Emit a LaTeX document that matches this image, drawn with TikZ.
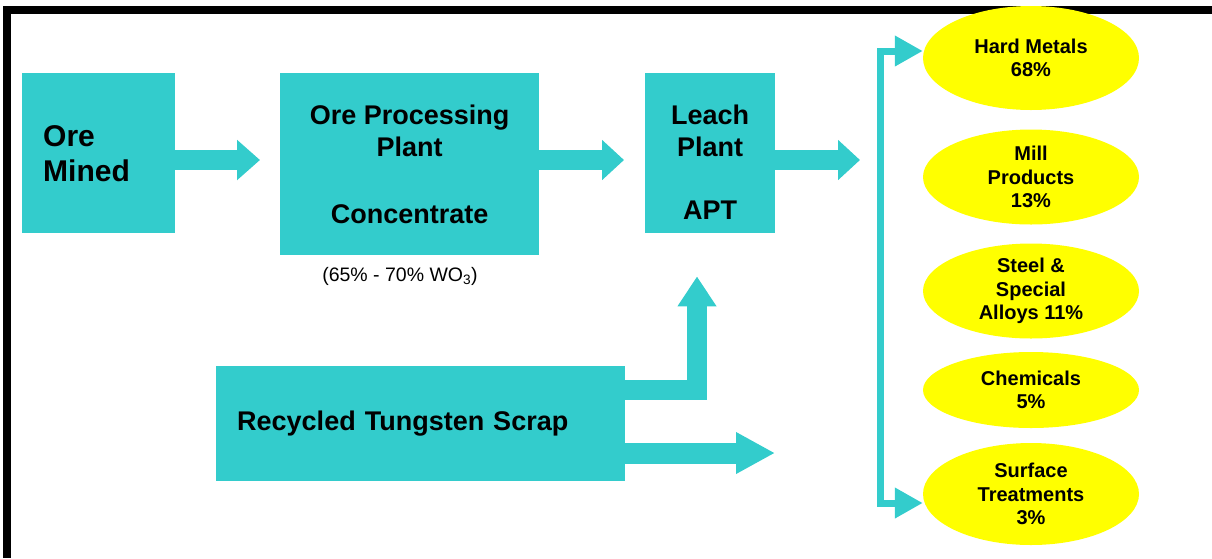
\documentclass[tikz,border=0pt]{standalone}
\usepackage{fontspec}
\setmainfont{Liberation Sans}
\usepackage{xcolor}
\usetikzlibrary{arrows.meta}
\usetikzlibrary{shapes.geometric}
\definecolor{boxcyan}{RGB}{51,204,204}
\definecolor{useyellow}{RGB}{255,255,0}
\tikzset{
  box/.style={fill=boxcyan, inner sep=0pt, anchor=north west,
    font=\fontsize{27}{32}\selectfont\bfseries},
  enduse/.style={ellipse, fill=useyellow, inner sep=-5pt, minimum width=216pt,
    align=center, font=\fontsize{20}{23.5}\selectfont\bfseries},
  flow/.style={color=boxcyan, line width=20pt, line join=miter},
}

\begin{document}
\begin{tikzpicture}[x=1pt,y=-1pt]
  \useasboundingbox (0,0) rectangle (1212,558);
  \fill (3,6) rectangle (1212,14);
  \fill (3,6) rectangle (11,558);

  \node[box, minimum width=153pt, minimum height=160pt, inner xsep=21pt,
    text width=111pt, align=left, font=\fontsize{30}{35}\selectfont\bfseries]
    (mined) at (22,73) {Ore\\Mined};
  \node[box, minimum width=259pt, minimum height=182pt, align=center]
    (proc) at (280,73) {Ore Processing\\Plant\\[35pt]Concentrate};
  \node[box, minimum width=130pt, minimum height=160pt]
    (leach) at (645,73) {\raisebox{-12pt}[\height][\depth]{%
      \begin{tabular}{@{}c@{}}Leach\\Plant\\[31pt]APT\end{tabular}}};
  \node[box, minimum width=409pt, minimum height=115pt, inner xsep=21pt,
    text width=367pt, align=left]
    (scrap) at (216,366) {Recycled Tungsten Scrap};
  \node[font=\fontsize{19.5}{22}\selectfont] (grade) at (400,276)
    {(65\% - 70\% WO\textsubscript{3})};

  % end uses
  \node[enduse, minimum height=104pt] (hard) at (1031,58) {Hard Metals\\68\%};
  \node[enduse, minimum height=95pt] (mill) at (1031,177) {Mill\\Products\\13\%};
  \node[enduse, minimum height=95pt] (steel) at (1031,291) {Steel \&\\Special\\Alloys 11\%};
  \node[enduse, minimum height=76pt] (chem) at (1031,390) {Chemicals\\5\%};
  \node[enduse, minimum height=102pt] (surf) at (1031,494) {Surface\\Treatments\\3\%};

  \coordinate (row) at (0,160);
  \coordinate (split) at (860,160);
  \draw[flow, -{Triangle[length=23pt,width=39pt]}, shorten >=20pt]
    (mined.east |- row) -- (proc.west |- row);
  \draw[flow, -{Triangle[length=22pt,width=39pt]}, shorten >=21pt]
    (proc.east |- row) -- (leach.west |- row);
  \draw[flow, -{Triangle[length=22pt,width=39pt]}]
    (leach.east |- row) -- (split);

  \coordinate (brtop) at (880,51);
  \coordinate (brbot) at (880,503);
  \draw[flow, line width=7pt,
    {Triangle[length=28pt,width=29pt]}-{Triangle[length=28pt,width=29pt]}]
    (hard.west |- brtop) -- (brtop) -- (brbot) -- (surf.west |- brbot);

  \coordinate (riser) at (697,390);
  \coordinate (bypass) at (775,453);
  \draw[flow, -{Triangle[length=30pt,width=37pt]}, shorten >=43pt]
    (scrap.east |- riser) -| (leach.south -| riser);
  \draw[flow, line width=21pt, -{Triangle[length=39pt,width=39pt]}]
    (scrap.east |- bypass) -- (bypass);
\end{tikzpicture}
\end{document}
